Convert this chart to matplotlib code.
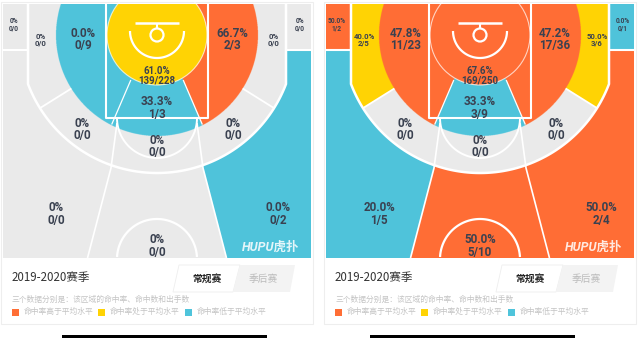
import numpy as np
import matplotlib.pyplot as plt
from matplotlib.colors import to_rgb
from matplotlib.patches import Polygon, Rectangle, Circle

plt.rcParams['font.family'] = ['Noto Sans CJK SC', 'DejaVu Sans']

# zones, in this order
zone_keys = ["corner3_l", "base_mid_l", "inner_l", "ra", "inner_r", "base_mid_r", "corner3_r",
             "paint_c", "wing_mid_l", "mid_c", "wing_mid_r", "wing3_l", "top3_c", "wing3_r"]

# left chart
left_made = [0, 0, 0, 139, 2, 0, 0, 1, 0, 0, 0, 0, 0, 0]
left_att = [0, 0, 9, 228, 3, 0, 0, 3, 0, 0, 0, 0, 0, 2]
left_level = [None, None, 'low', 'avg', 'high', None, None, 'low', None, None, None, None, None, 'low']

# right chart
right_made = [1, 2, 11, 169, 17, 3, 0, 3, 0, 0, 0, 1, 5, 2]
right_att = [2, 5, 23, 250, 36, 6, 1, 9, 0, 0, 0, 5, 10, 4]
right_level = ['high', 'avg', 'high', 'high', 'high', 'avg', 'low', 'low', None, None, None, 'low', 'high', 'high']

season = '2019-2020赛季'
tabs = ['常规赛', '季后赛']
note = '三个数据分别是：该区域的命中率、命中数和出手数'
legend_labels = ['命中率高于平均水平', '命中率处于平均水平', '命中率低于平均水平']

ORANGE = '#ff6e35'
YELLOW = '#ffd304'
BLUE = '#4fc4db'
GRAY = '#ebebeb'
TXT = '#3a4150'
level_color = {'high': ORANGE, 'avg': YELLOW, 'low': BLUE, None: GRAY}

# court layout (pixels, relative to court centre)
TOP, BOT, HALF = 4, 258, 154
BY = 35          # basket y
R_RA, R_IN, R3 = 50, 101, 138
X3 = 129
Y_JOIN = BY + np.sqrt(R3**2 - X3**2)
LANE_W, LANE_B = 51, 118
BASE_ANG = np.radians(32)

# label layout: dx, y (middle of the two rows), font size
label_pos = [(-143, 25, 4.8), (-116, 40, 5.6), (-74, 39.5, 8.4), (0, 76, 7),
             (75, 39.5, 8.4), (117, 40, 5.6), (143, 25, 4.8), (0, 108, 8.4),
             (-75, 129.5, 8.4), (0, 146.5, 8.4), (76, 129.5, 8.4), (-101, 214, 8.4),
             (0, 246, 8.4), (121, 214, 8.4)]


def outer_c(y):
    return np.interp(y, [123, 168, 258], [40, 46, 69.5])


def inner_c(y):
    return np.interp(y, [60, 83, 118, 126], [17.4, 27.5, 42.5, 46])


def classify(X, Y):
    adx = np.abs(X)
    r = np.hypot(X, Y - BY)
    right = X > 0
    z = np.zeros(X.shape, dtype=int)
    inside3 = (adx <= X3) & ((Y < Y_JOIN) | (r <= R3))
    corner = ~inside3 & (Y < 50)
    three = ~inside3 & ~corner
    z[corner] = np.where(right[corner], 6, 0)
    c3 = three & (adx <= outer_c(Y))
    w3 = three & ~c3
    z[c3] = 12
    z[w3] = np.where(right[w3], 13, 11)
    mid = inside3 & (r > R_IN)
    base = mid & ((Y - BY) < np.tan(BASE_ANG) * adx)
    z[base] = np.where(right[base], 5, 1)
    rest = mid & ~base
    cm = rest & (adx <= outer_c(Y))
    wm = rest & ~cm
    z[cm] = 9
    z[wm] = np.where(right[wm], 10, 8)
    inner = inside3 & (r <= R_IN) & (r > R_RA)
    ci = inner & (adx <= inner_c(Y)) & (Y > BY)
    si = inner & ~ci
    z[ci] = 7
    z[si] = np.where(right[si], 4, 2)
    z[inside3 & (r <= R_RA)] = 3
    return z


fig = plt.figure(figsize=(6.4, 3.38), dpi=100)
ax = fig.add_axes([0, 0, 1, 1])

step = 0.25
xs = np.arange(-HALF, HALF, step) + step / 2
ys = np.arange(TOP, BOT, step) + step / 2
GX, GY = np.meshgrid(xs, ys)
zmap = classify(GX, GY)

panels = [(157, left_made, left_att, left_level, (-95, 110)),
          (480, right_made, right_att, right_level, (-110, 95))]

W = dict(color='white', solid_capstyle='butt', zorder=3)

for cx, made, att, level, bar in panels:
    # card
    ax.add_patch(Rectangle((cx - 156, 2), 312, 322, fc='white', ec='#eeeeee', lw=0.8, zorder=0))

    pal = np.array([to_rgb(level_color[l]) for l in level])
    ax.imshow(pal[zmap], extent=(cx - HALF, cx + HALF, BOT, TOP), interpolation='antialiased',
              aspect='auto', zorder=1)

    # three point line
    t0 = np.arcsin((Y_JOIN - BY) / R3)
    t = np.linspace(np.pi - t0, t0, 120)
    lx = np.r_[cx - X3, cx + R3 * np.cos(t), cx + X3]
    ly = np.r_[TOP, BY + R3 * np.sin(t), TOP]
    ax.plot(lx, ly, lw=1.8, **W)
    # corner separators and zone dividers
    for s in (-1, 1):
        ax.plot([cx + s * HALF, cx + s * X3], [50, 50], lw=1.5, **W)
        rr = np.array([R_IN, R3])
        ax.plot(cx + s * rr * np.cos(BASE_ANG), BY + rr * np.sin(BASE_ANG), lw=1.3, **W)
        yy = np.array([80, 118, 124.5])
        ax.plot(cx + s * inner_c(yy), yy, lw=0.9, **W)
        yy = np.array([123, 168, 258])
        ax.plot(cx + s * outer_c(yy), yy, lw=1.2, **W)
    # lane
    ax.plot([cx - LANE_W, cx - LANE_W, cx + LANE_W, cx + LANE_W], [TOP, LANE_B, LANE_B, TOP], lw=1.5, **W)
    # free throw circle (lower half)
    t = np.linspace(0, np.pi, 80)
    ax.plot(cx + 40 * np.cos(t), LANE_B + 40 * np.sin(t), lw=1.4, **W)
    # centre circle
    t = np.linspace(np.pi + 0.05, 2 * np.pi - 0.05, 80)
    ax.plot(cx + 40 * np.cos(t), 259 + 40 * np.sin(t), lw=1.6, **W)
    # restricted area outline
    ax.add_patch(Circle((cx, BY), R_RA, fill=False, ec='white', lw=0.8, alpha=0.7, zorder=3))
    # rim icon
    ax.plot([cx - 22, cx + 22], [23, 23], lw=1.8, **W)
    ax.plot([cx, cx], [23, 28.5], lw=1.5, **W)
    ax.add_patch(Circle((cx, 35), 6.5, fill=False, ec='white', lw=1.6, zorder=3))
    t = np.linspace(0, np.pi, 60)
    ax.plot(cx + 27 * np.cos(t), 31 + 27 * np.sin(t), lw=1.6, **W)

    # zone labels
    for i, (dx, ym, fs) in enumerate(label_pos):
        pct = '0%' if att[i] == 0 else f'{100 * made[i] / att[i]:.1f}%'
        ax.text(cx + dx, ym, f'{pct}\n{made[i]}/{att[i]}', ha='center', va='center', ma='center',
                fontsize=fs, fontweight='bold', linespacing=0.92, color=TXT,
                family=['Roboto', 'DejaVu Sans'], zorder=5)

    ax.text(cx + 114, 247, 'HUPU虎扑', ha='center', va='center', fontsize=9, fontweight='bold',
            style='italic', color='white', alpha=0.85, family=['Roboto', 'Noto Sans CJK SC'], zorder=5)

    # bottom card
    ax.text(cx - 145, 278, season, ha='left', va='center', fontsize=8.3, color='#333333', zorder=5)
    ax.add_patch(Polygon([(cx + 16, 292), (cx + 22, 265), (cx + 83, 265), (cx + 76, 292)],
                         closed=True, fc='white', ec='#eeeeee', lw=0.6, zorder=2))
    ax.add_patch(Polygon([(cx + 76, 292), (cx + 83, 265), (cx + 138, 265), (cx + 133, 292)],
                         closed=True, fc='#f3f3f3', ec='none', zorder=2))
    ax.text(cx + 50, 279, tabs[0], ha='center', va='center', fontsize=7, fontweight='bold',
            color='#222222', zorder=5)
    ax.text(cx + 106, 279, tabs[1], ha='center', va='center', fontsize=7, color='#bbbbbb', zorder=5)
    ax.text(cx - 145, 300, note, ha='left', va='center', fontsize=5.6, color='#c4c4c4', zorder=5)
    for (sq, tx), col, lab in zip([(-145, -133), (-59, -47), (28, 40)], [ORANGE, YELLOW, BLUE], legend_labels):
        ax.add_patch(Rectangle((cx + sq, 308.5), 7, 7, fc=col, ec='none', zorder=5))
        ax.text(cx + tx, 312, lab, ha='left', va='center', fontsize=5.6, color='#c4c4c4', zorder=5)

    ax.add_patch(Rectangle((cx + bar[0], 334.5), bar[1] - bar[0], 4, fc='black', ec='none', zorder=5))

ax.set_xlim(0, 640)
ax.set_ylim(338, 0)
ax.axis('off')
fig.savefig('out.png', dpi=100)
